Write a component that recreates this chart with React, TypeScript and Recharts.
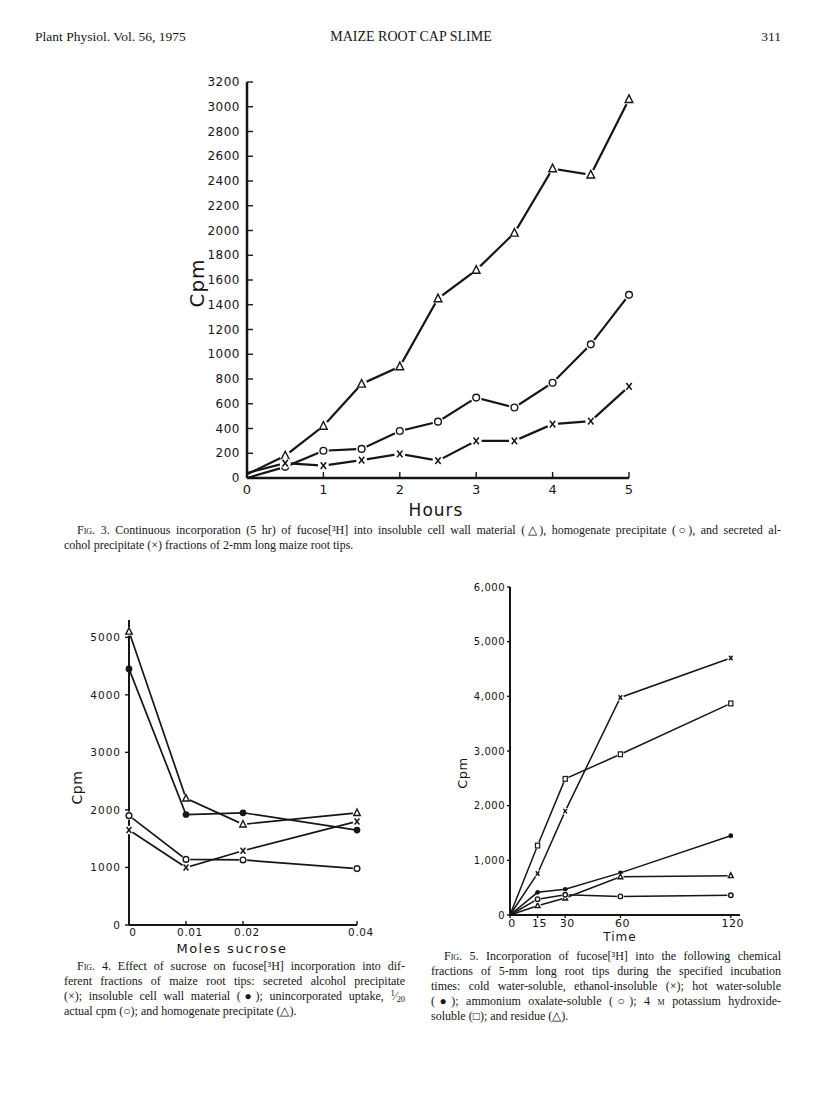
import React from "react";
import { LineChart, Line, XAxis, YAxis, Label } from "recharts";

// Fig. 3 — continuous incorporation over 5 hr
const fig3Hours = [0, 0.5, 1, 1.5, 2, 2.5, 3, 3.5, 4, 4.5, 5];
const fig3Triangle = [30, 180, 420, 760, 900, 1450, 1680, 1980, 2500, 2450, 3060];
const fig3Circle = [0, 90, 220, 235, 380, 455, 650, 570, 770, 1080, 1480];
const fig3Cross = [40, 120, 100, 145, 195, 140, 300, 300, 435, 460, 740];
const fig3YTicks = [0, 200, 400, 600, 800, 1000, 1200, 1400, 1600, 1800, 2000, 2200, 2400, 2600, 2800, 3000, 3200];
const fig3XTicks = [0, 1, 2, 3, 4, 5];

// Fig. 4 — effect of sucrose
const fig4Sucrose = [0, 0.01, 0.02, 0.04];
const fig4Cross = [1650, 1000, 1290, 1800];
const fig4Filled = [4450, 1920, 1950, 1650];
const fig4Open = [1900, 1140, 1130, 980];
const fig4Triangle = [5100, 2200, 1750, 1950];
const fig4YTicks = [0, 1000, 2000, 3000, 4000, 5000];
const fig4XTicks = [0, 0.01, 0.02, 0.04];

// Fig. 5 — chemical fractions vs incubation time
const fig5Time = [0, 15, 30, 60, 120];
const fig5Cross = [0, 760, 1900, 3980, 4700];
const fig5Filled = [0, 415, 470, 770, 1450];
const fig5Open = [0, 290, 370, 340, 360];
const fig5Square = [0, 1270, 2490, 2940, 3870];
const fig5Triangle = [0, 170, 310, 700, 720];
const fig5YTicks = [0, 1000, 2000, 3000, 4000, 5000, 6000];
const fig5XTicks = [0, 15, 30, 60, 120];

const fig3Data = fig3Hours.map((t, i) => ({
  t,
  tri: fig3Triangle[i],
  circ: fig3Circle[i],
  cross: fig3Cross[i],
}));
const fig4Data = fig4Sucrose.map((t, i) => ({
  t,
  cross: fig4Cross[i],
  filled: fig4Filled[i],
  open: fig4Open[i],
  tri: fig4Triangle[i],
}));
const fig5Data = fig5Time.map((t, i) => ({
  t,
  cross: fig5Cross[i],
  filled: fig5Filled[i],
  open: fig5Open[i],
  square: fig5Square[i],
  tri: fig5Triangle[i],
}));

const INK = "#161616";
const SANS = "'DejaVu Sans', sans-serif";
const SERIF = "'Liberation Serif', 'Times New Roman', serif";

type Shape = "triangle" | "circle" | "dot" | "cross" | "square";

function makeMark(shape: Shape, s: number, halo: number, skipFirst: boolean) {
  return (props: any) => {
    const { cx, cy, index } = props;
    const key = `m-${shape}-${index}`;
    if (cx == null || cy == null || (skipFirst && index === 0)) return <g key={key} />;
    let mark = null;
    if (shape === "triangle") {
      mark = (
        <polygon
          points={`${cx},${cy - s} ${cx - s * 0.85},${cy + s * 0.7} ${cx + s * 0.85},${cy + s * 0.7}`}
          fill="#fff"
          stroke={INK}
          strokeWidth={1.4}
        />
      );
    } else if (shape === "circle") {
      mark = <circle cx={cx} cy={cy} r={s * 0.75} fill="#fff" stroke={INK} strokeWidth={1.4} />;
    } else if (shape === "dot") {
      mark = <circle cx={cx} cy={cy} r={s * 0.8} fill={INK} />;
    } else if (shape === "square") {
      mark = (
        <rect x={cx - s * 0.7} y={cy - s * 0.8} width={s * 1.4} height={s * 1.6} fill="#fff" stroke={INK} strokeWidth={1.2} />
      );
    } else {
      mark = (
        <g stroke={INK} strokeWidth={1.5}>
          <line x1={cx - s * 0.6} y1={cy - s * 0.75} x2={cx + s * 0.6} y2={cy + s * 0.75} />
          <line x1={cx + s * 0.6} y1={cy - s * 0.75} x2={cx - s * 0.6} y2={cy + s * 0.75} />
        </g>
      );
    }
    return (
      <g key={key}>
        {halo > 0 && <circle cx={cx} cy={cy} r={halo} fill="#fff" />}
        {mark}
      </g>
    );
  };
}

// y tick: tickSize 0, tickMargin = gap, so axis line sits at x + gap
function makeYTick(gap: number, len: number, inward: boolean, fontSize: number, fmt: (v: number) => string, spacing = 0) {
  return (props: any) => {
    const { x, y, payload } = props;
    const ax = x + gap;
    return (
      <g>
        <line x1={ax} x2={inward ? ax + len : ax - len} y1={y} y2={y} stroke={INK} strokeWidth={1.4} />
        <text
          x={x}
          y={y}
          textAnchor="end"
          dominantBaseline="central"
          fontSize={fontSize}
          fontFamily={SANS}
          letterSpacing={spacing}
          fill={INK}
        >
          {fmt(payload.value)}
        </text>
      </g>
    );
  };
}

function makeXTick(gap: number, len: number, inward: boolean, fontSize: number, fmt: (v: number) => string, spacing = 0, dx = 0) {
  return (props: any) => {
    const { x, y, payload } = props;
    const ay = y - gap;
    return (
      <g>
        <line x1={x} x2={x} y1={ay} y2={inward ? ay - len : ay + len} stroke={INK} strokeWidth={1.4} />
        <text
          x={x + dx}
          y={y}
          textAnchor="middle"
          dominantBaseline="hanging"
          fontSize={fontSize}
          fontFamily={SANS}
          letterSpacing={spacing}
          fill={INK}
        >
          {fmt(payload.value)}
        </text>
      </g>
    );
  };
}

function axisTitle(text: string, dx: number, dy: number, rotate: boolean, fontSize: number, spacing = 0) {
  return (props: any) => {
    const vb = props.viewBox || {};
    const cx = vb.x + vb.width / 2 + dx;
    const cy = vb.y + vb.height / 2 + dy;
    return (
      <text
        x={cx}
        y={cy}
        transform={rotate ? `rotate(-90 ${cx} ${cy})` : undefined}
        textAnchor="middle"
        dominantBaseline="central"
        fontSize={fontSize}
        fontFamily={SANS}
        letterSpacing={spacing}
        fill={INK}
      >
        {text}
      </text>
    );
  };
}

const plain = (v: number) => String(v);
const comma = (v: number) => v.toLocaleString("en-US");

function Fig3() {
  return (
    <LineChart width={500} height={450} data={fig3Data} margin={{ top: 12, right: 21, left: 37, bottom: 12 }}>
      <XAxis
        type="number"
        dataKey="t"
        domain={[0, 5]}
        ticks={fig3XTicks}
        axisLine={{ stroke: INK, strokeWidth: 2.5 }}
        tickLine={false}
        tickSize={0}
        tickMargin={6}
        height={30}
        tick={makeXTick(6, 6, true, 13, plain)}
      >
        <Label content={axisTitle("Hours", -2, 17, false, 17, 1)} />
      </XAxis>
      <YAxis
        type="number"
        domain={[0, 3200]}
        ticks={fig3YTicks}
        axisLine={{ stroke: INK, strokeWidth: 2.5 }}
        tickLine={false}
        tickSize={0}
        tickMargin={7}
        width={60}
        tick={makeYTick(7, 6, true, 12, plain, 0.5)}
      >
        <Label content={axisTitle("Cpm", -20, 3, true, 20, 1)} />
      </YAxis>
      <Line dataKey="tri" stroke={INK} strokeWidth={2.2} isAnimationActive={false} dot={makeMark("triangle", 4.5, 5.5, true)} />
      <Line dataKey="circ" stroke={INK} strokeWidth={2.2} isAnimationActive={false} dot={makeMark("circle", 4.5, 5.5, true)} />
      <Line dataKey="cross" stroke={INK} strokeWidth={2.2} isAnimationActive={false} dot={makeMark("cross", 4.5, 5.5, true)} />
    </LineChart>
  );
}

function Fig4() {
  return (
    <LineChart width={340} height={365} data={fig4Data} margin={{ top: 20, right: 23, left: 29, bottom: 20 }}>
      <XAxis
        type="number"
        dataKey="t"
        domain={[0, 0.04]}
        ticks={fig4XTicks}
        axisLine={{ stroke: INK, strokeWidth: 2 }}
        tickLine={false}
        tickSize={0}
        tickMargin={3}
        height={20}
        tick={makeXTick(3, 4, true, 10.5, plain, 0.6, 4)}
      >
        <Label content={axisTitle("Moles  sucrose", -11, 13, false, 13, 1.5)} />
      </XAxis>
      <YAxis
        type="number"
        domain={[0, 5300]}
        ticks={fig4YTicks}
        axisLine={{ stroke: INK, strokeWidth: 2 }}
        tickLine={false}
        tickSize={0}
        tickMargin={8}
        width={60}
        tick={makeYTick(8, 4, false, 10.5, plain, 1)}
      >
        <Label content={axisTitle("Cpm", -22, 15, true, 14, 0.5)} />
      </YAxis>
      <Line dataKey="tri" stroke={INK} strokeWidth={1.7} isAnimationActive={false} dot={makeMark("triangle", 3.8, 4.2, false)} />
      <Line dataKey="filled" stroke={INK} strokeWidth={1.7} isAnimationActive={false} dot={makeMark("dot", 4.2, 0, false)} />
      <Line dataKey="open" stroke={INK} strokeWidth={1.7} isAnimationActive={false} dot={makeMark("circle", 3.8, 4.2, false)} />
      <Line dataKey="cross" stroke={INK} strokeWidth={1.7} isAnimationActive={false} dot={makeMark("cross", 4, 4.2, false)} />
    </LineChart>
  );
}

function Fig5() {
  return (
    <LineChart width={340} height={380} data={fig5Data} margin={{ top: 17, right: 30, left: 20, bottom: 15 }}>
      <XAxis
        type="number"
        dataKey="t"
        domain={[0, 125]}
        ticks={fig5XTicks}
        axisLine={{ stroke: INK, strokeWidth: 2 }}
        tickLine={false}
        tickSize={0}
        tickMargin={4}
        height={20}
        tick={makeXTick(4, 3, false, 11, plain, 0.5, 2)}
      >
        <Label content={axisTitle("Time", -5, 12, false, 12, 1)} />
      </XAxis>
      <YAxis
        type="number"
        domain={[0, 6000]}
        ticks={fig5YTicks}
        axisLine={{ stroke: INK, strokeWidth: 2 }}
        tickLine={false}
        tickSize={0}
        tickMargin={5}
        width={60}
        tick={makeYTick(5, 3, false, 10, comma, 0.5)}
      >
        <Label content={axisTitle("Cpm", -18, 22, true, 13, 0.5)} />
      </YAxis>
      <Line dataKey="cross" stroke={INK} strokeWidth={1.5} isAnimationActive={false} dot={makeMark("cross", 3, 3.5, true)} />
      <Line dataKey="square" stroke={INK} strokeWidth={1.5} isAnimationActive={false} dot={makeMark("square", 3, 3.5, true)} />
      <Line dataKey="filled" stroke={INK} strokeWidth={1.5} isAnimationActive={false} dot={makeMark("dot", 3, 0, true)} />
      <Line dataKey="tri" stroke={INK} strokeWidth={1.5} isAnimationActive={false} dot={makeMark("triangle", 2.8, 3.2, true)} />
      <Line dataKey="open" stroke={INK} strokeWidth={1.5} isAnimationActive={false} dot={makeMark("circle", 3, 3.5, true)} />
    </LineChart>
  );
}

const fig = (n: string) => (
  <>
    <span style={{ fontVariant: "small-caps" }}>Fig.</span> {n}.{" "}
  </>
);

function Line_({ left, top, width, justify = true, children }: any) {
  return (
    <div
      style={{
        position: "absolute",
        left,
        top,
        width,
        height: 15,
        whiteSpace: "nowrap",
        textAlign: "justify",
        textAlignLast: justify ? "justify" : "left",
        fontFamily: SERIF,
        fontSize: 12,
        lineHeight: "15px",
        color: INK,
      }}
    >
      {children}
    </div>
  );
}

const raised = { fontSize: "0.7em", position: "relative" as const, top: -4, lineHeight: 0 };
const lowered = { fontSize: "0.7em", position: "relative" as const, top: 2, lineHeight: 0 };

export default function App() {
  return (
    <div style={{ position: "absolute", left: 0, top: 0, width: 816, height: 1099, background: "#fff", overflow: "hidden" }}>
      {/* running head */}
      <div style={{ position: "absolute", left: 35, top: 29, fontFamily: SERIF, fontSize: 13.5, lineHeight: "16px", color: INK }}>
        Plant Physiol. Vol. 56, 1975
      </div>
      <div style={{ position: "absolute", left: 311, width: 200, top: 29, textAlign: "center", fontFamily: SERIF, fontSize: 14, lineHeight: "16px", color: INK }}>
        MAIZE ROOT CAP SLIME
      </div>
      <div style={{ position: "absolute", left: 681, width: 100, top: 29, textAlign: "right", fontFamily: SERIF, fontSize: 13.5, lineHeight: "16px", color: INK }}>
        311
      </div>

      <div style={{ position: "absolute", left: 150, top: 70 }}>
        <Fig3 />
      </div>
      <Line_ left={77} top={523} width={704}>
        {fig("3")}Continuous incorporation (5 hr) of fucose[³H] into insoluble cell wall material (△), homogenate precipitate (○), and secreted al-
      </Line_>
      <Line_ left={64} top={538} width={717} justify={false}>
        cohol precipitate (×) fractions of 2-mm long maize root tips.
      </Line_>

      <div style={{ position: "absolute", left: 40, top: 600 }}>
        <Fig4 />
      </div>
      <Line_ left={77} top={959} width={328}>
        {fig("4")}Effect of sucrose on fucose[³H] incorporation into dif-
      </Line_>
      <Line_ left={64} top={974} width={341}>
        ferent fractions of maize root tips: secreted alcohol precipitate
      </Line_>
      <Line_ left={64} top={989} width={341}>
        (×); insoluble cell wall material (●); unincorporated uptake,{" "}
        <span>
          <span style={raised}>1</span>⁄<span style={lowered}>20</span>
        </span>
      </Line_>
      <Line_ left={64} top={1004} width={341} justify={false}>
        actual cpm (○); and homogenate precipitate (△).
      </Line_>

      <div style={{ position: "absolute", left: 430, top: 570 }}>
        <Fig5 />
      </div>
      <Line_ left={444} top={949} width={337}>
        {fig("5")}Incorporation of fucose[³H] into the following chemical
      </Line_>
      <Line_ left={431} top={964} width={350}>
        fractions of 5-mm long root tips during the specified incubation
      </Line_>
      <Line_ left={431} top={979} width={350}>
        times: cold water-soluble, ethanol-insoluble (×); hot water-soluble
      </Line_>
      <Line_ left={431} top={994} width={350}>
        (●); ammonium oxalate-soluble (○); 4 <span style={{ fontVariant: "small-caps" }}>m</span> potassium hydroxide-
      </Line_>
      <Line_ left={431} top={1009} width={350} justify={false}>
        soluble (□); and residue (△).
      </Line_>
    </div>
  );
}
